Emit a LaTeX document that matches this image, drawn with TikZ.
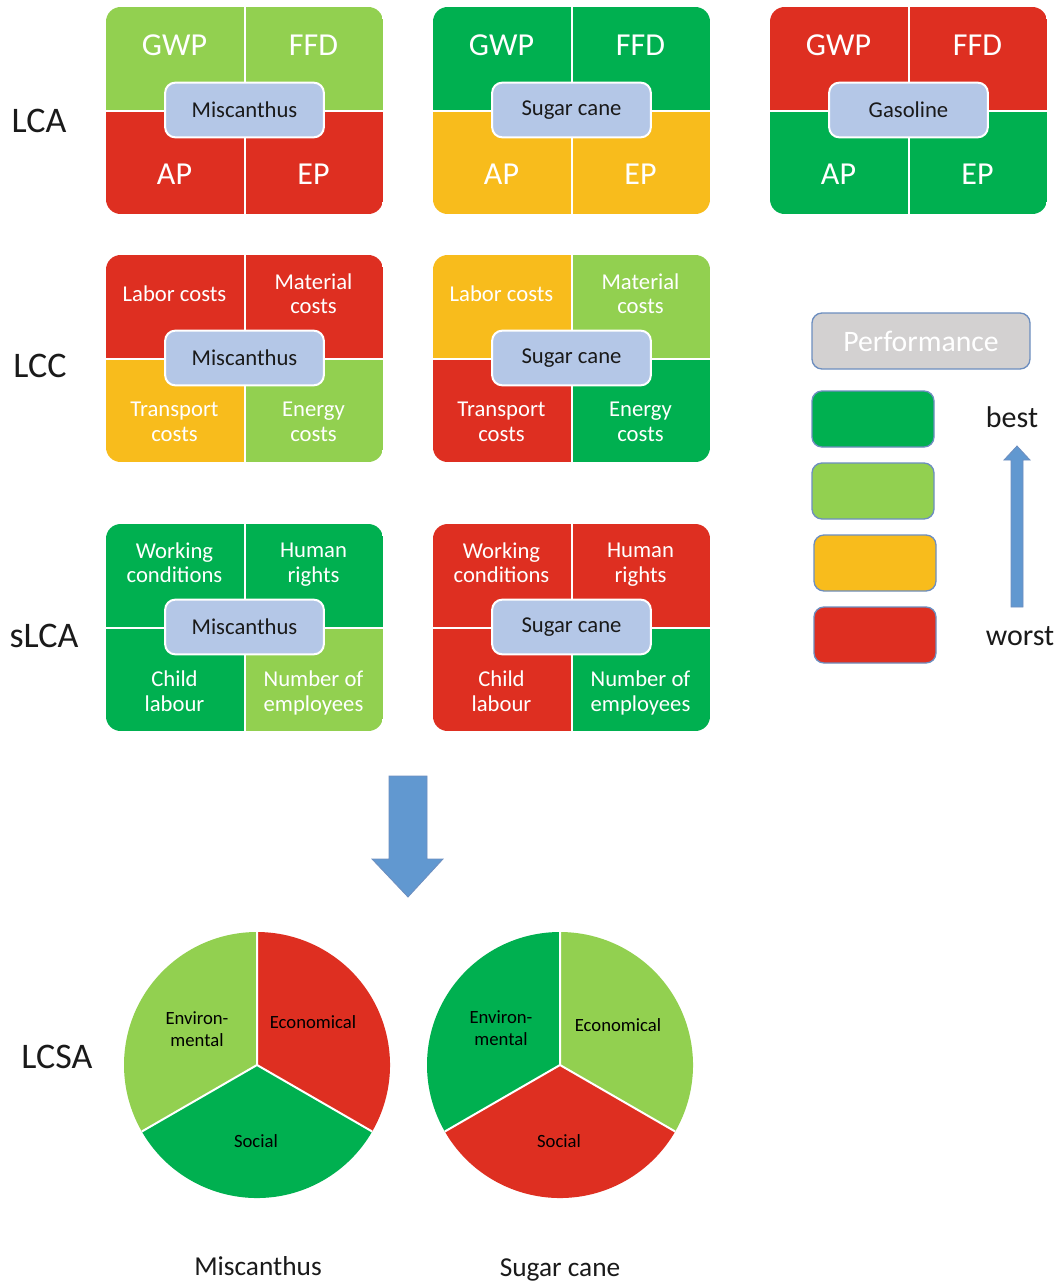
\documentclass[tikz,border=0pt]{standalone}
\usepackage{fontspec}
\setmainfont{Carlito}
\definecolor{dgreen}{HTML}{00B050}
\definecolor{lgreen}{HTML}{92D050}
\definecolor{cred}{HTML}{DE2F21}
\definecolor{cyellow}{HTML}{F8BC1C}
\definecolor{boxblue}{HTML}{B4C7E7}
\definecolor{arrowblue}{HTML}{6198D0}
\definecolor{edgeblue}{HTML}{6D8EBF}
\definecolor{perfgrey}{HTML}{D3D1D1}
\definecolor{inktext}{HTML}{1A1A1A}

% Four-quadrant panel: #1 name, #2 top-left corner, #3..#6 colours (TL, TR, BL, BR)
\newcommand\panelbg[6]{%
  \begin{scope}[shift={(#2)}]
    \begin{scope}
      \clip[rounded corners=11pt] (0,0) rectangle (277,207);
      \fill[#3] (0,0) rectangle (138.5,103.5);
      \fill[#4] (138.5,0) rectangle (277,103.5);
      \fill[#5] (0,103.5) rectangle (138.5,207);
      \fill[#6] (138.5,103.5) rectangle (277,207);
    \end{scope}
    \draw[divider] (138.5,0) -- (138.5,207) (0,103.5) -- (277,103.5);
    \coordinate (#1-tl) at (68.5,38.5);
    \coordinate (#1-tr) at (207.5,38.5);
    \coordinate (#1-bl) at (68.5,167);
    \coordinate (#1-br) at (207.5,167);
    \coordinate (#1-c) at (138.5,103);
  \end{scope}}

\begin{document}
\begin{tikzpicture}[x=0.75pt,y=-0.75pt,
  divider/.style={white,line width=1.5pt},
  lbl/.style={inner sep=0pt,text depth=0pt},
  rowlabel/.style={lbl,text=inktext,text height=17pt,font=\fontsize{27}{30}\selectfont},
  qbig/.style={lbl,text=white,text height=15.1pt,font=\fontsize{24}{28}\selectfont},
  qsmall/.style={inner sep=0pt,text depth=0pt,text=white,align=center,
    font=\fontsize{17}{18.5}\selectfont},
  cbox/.style={draw=white,line width=1.5pt,fill=boxblue,rounded corners=7.5pt,
    minimum width=119pt,minimum height=41pt,inner sep=0pt,text=inktext,
    font=\fontsize{17}{19}\selectfont},
  legbox/.style={draw=edgeblue,line width=1pt,rounded corners=7.5pt,
    minimum width=91.5pt,minimum height=42pt,inner sep=0pt},
  legtext/.style={lbl,text=inktext,text height=14pt,font=\fontsize{22.5}{25}\selectfont},
  pietext/.style={inner sep=0pt,text depth=0pt,text=black,align=center,
    font=\fontsize{14}{16.5}\selectfont},
  caption/.style={lbl,text=inktext,text height=12.9pt,font=\fontsize{20.5}{24}\selectfont},
  blockarrow/.style={fill=arrowblue,draw=edgeblue,line width=0.6pt,line join=miter}
]
\useasboundingbox (0,0) rectangle (1063,1285);
\fill[white] (0,0) rectangle (1063,1285);

% row labels
\node[rowlabel] (lca)  at (39,121)  {LCA};
\node[rowlabel] (lcc)  at (40,366)  {LCC};
\node[rowlabel] (slca) at (44,636)  {sLCA};
\node[rowlabel] (lcsa) at (57,1057) {LCSA};

% ---------- LCA ----------
\panelbg{lcaM}{106,7}{lgreen}{lgreen}{cred}{cred}
\node[qbig] (lcaM-gwp) at (lcaM-tl) {GWP};
\node[qbig] (lcaM-ffd) at (lcaM-tr) {FFD};
\node[qbig] (lcaM-ap)  at (lcaM-bl) {AP};
\node[qbig] (lcaM-ep)  at (lcaM-br) {EP};
\node[cbox] (lcaM-name) at (lcaM-c) {Miscanthus};

\panelbg{lcaS}{433,7}{dgreen}{dgreen}{cyellow}{cyellow}
\node[qbig] (lcaS-gwp) at (lcaS-tl) {GWP};
\node[qbig] (lcaS-ffd) at (lcaS-tr) {FFD};
\node[qbig] (lcaS-ap)  at (lcaS-bl) {AP};
\node[qbig] (lcaS-ep)  at (lcaS-br) {EP};
\node[cbox] (lcaS-name) at (lcaS-c) {Sugar cane};

\panelbg{lcaG}{770,7}{cred}{cred}{dgreen}{dgreen}
\node[qbig] (lcaG-gwp) at (lcaG-tl) {GWP};
\node[qbig] (lcaG-ffd) at (lcaG-tr) {FFD};
\node[qbig] (lcaG-ap)  at (lcaG-bl) {AP};
\node[qbig] (lcaG-ep)  at (lcaG-br) {EP};
\node[cbox] (lcaG-name) at (lcaG-c) {Gasoline};

% ---------- LCC ----------
\panelbg{lccM}{106,255}{cred}{cred}{cyellow}{lgreen}
\node[qsmall] (lccM-lab) at (lccM-tl) {Labor costs};
\node[qsmall] (lccM-mat) at (lccM-tr) {Material\\costs};
\node[qsmall] (lccM-tra) at (lccM-bl) {Transport\\costs};
\node[qsmall] (lccM-ene) at (lccM-br) {Energy\\costs};
\node[cbox] (lccM-name) at (lccM-c) {Miscanthus};

\panelbg{lccS}{433,255}{cyellow}{lgreen}{cred}{dgreen}
\node[qsmall] (lccS-lab) at (lccS-tl) {Labor costs};
\node[qsmall] (lccS-mat) at (lccS-tr) {Material\\costs};
\node[qsmall] (lccS-tra) at (lccS-bl) {Transport\\costs};
\node[qsmall] (lccS-ene) at (lccS-br) {Energy\\costs};
\node[cbox] (lccS-name) at (lccS-c) {Sugar cane};

% ---------- sLCA ----------
\panelbg{slcaM}{106,524}{dgreen}{dgreen}{dgreen}{lgreen}
\node[qsmall] (slcaM-wor) at (slcaM-tl) {Working\\conditions};
\node[qsmall] (slcaM-hum) at (slcaM-tr) {Human\\rights};
\node[qsmall] (slcaM-chi) at (slcaM-bl) {Child\\labour};
\node[qsmall] (slcaM-emp) at (slcaM-br) {Number of\\employees};
\node[cbox] (slcaM-name) at (slcaM-c) {Miscanthus};

\panelbg{slcaS}{433,524}{cred}{cred}{cred}{dgreen}
\node[qsmall] (slcaS-wor) at (slcaS-tl) {Working\\conditions};
\node[qsmall] (slcaS-hum) at (slcaS-tr) {Human\\rights};
\node[qsmall] (slcaS-chi) at (slcaS-bl) {Child\\labour};
\node[qsmall] (slcaS-emp) at (slcaS-br) {Number of\\employees};
\node[cbox] (slcaS-name) at (slcaS-c) {Sugar cane};

% ---------- legend ----------
\node[legbox,fill=perfgrey,minimum width=163.5pt,text=white,
      font=\fontsize{22.3}{25}\selectfont] (perf) at (921,341) {Performance};
\node[legbox,fill=dgreen]  (leg1) at (873,419) {};
\node[legbox,fill=lgreen]  (leg2) at (873,491) {};
\node[legbox,fill=cyellow] (leg3) at (875,563) {};
\node[legbox,fill=cred]    (leg4) at (875,635) {};
\node[legtext] (best)  at (1012,418) {best};
\node[legtext] (worst) at (1020,636) {worst};
\draw[blockarrow] (1011,607) -- (1011,460) -- (1004,460) -- (1017,446)
  -- (1030,460) -- (1023,460) -- (1023,607) -- cycle;

% ---------- aggregation arrow ----------
\draw[blockarrow] (389,776) -- (427,776) -- (427,859) -- (443,859) -- (408,897)
  -- (372,859) -- (389,859) -- cycle;

% ---------- LCSA pies ----------
\def\pr{99.75pt}
\coordinate (pieM) at (257,1065);
\fill[lgreen] (pieM) -- ++(90:\pr)  arc[start angle=90, end angle=210,radius=\pr] -- cycle;
\fill[dgreen] (pieM) -- ++(210:\pr) arc[start angle=210,end angle=330,radius=\pr] -- cycle;
\fill[cred]   (pieM) -- ++(330:\pr) arc[start angle=330,end angle=450,radius=\pr] -- cycle;
\draw[divider] (pieM) -- ++(90:\pr) (pieM) -- ++(210:\pr) (pieM) -- ++(330:\pr);
\node[pietext] (pieM-env) at (197,1029) {Environ-\\mental};
\node[pietext] (pieM-eco) at (313,1022) {Economical};
\node[pietext] (pieM-soc) at (256,1141) {Social};

\coordinate (pieS) at (560,1065);
\fill[dgreen] (pieS) -- ++(90:\pr)  arc[start angle=90, end angle=210,radius=\pr] -- cycle;
\fill[cred]   (pieS) -- ++(210:\pr) arc[start angle=210,end angle=330,radius=\pr] -- cycle;
\fill[lgreen] (pieS) -- ++(330:\pr) arc[start angle=330,end angle=450,radius=\pr] -- cycle;
\draw[divider] (pieS) -- ++(90:\pr) (pieS) -- ++(210:\pr) (pieS) -- ++(330:\pr);
\node[pietext] (pieS-env) at (501,1028) {Environ-\\mental};
\node[pietext] (pieS-eco) at (618,1025) {Economical};
\node[pietext] (pieS-soc) at (559,1141) {Social};

\node[caption] (capM) at (258,1266.5) {Miscanthus};
\node[caption] (capS) at (560,1267.5) {Sugar cane};
\end{tikzpicture}
\end{document}
